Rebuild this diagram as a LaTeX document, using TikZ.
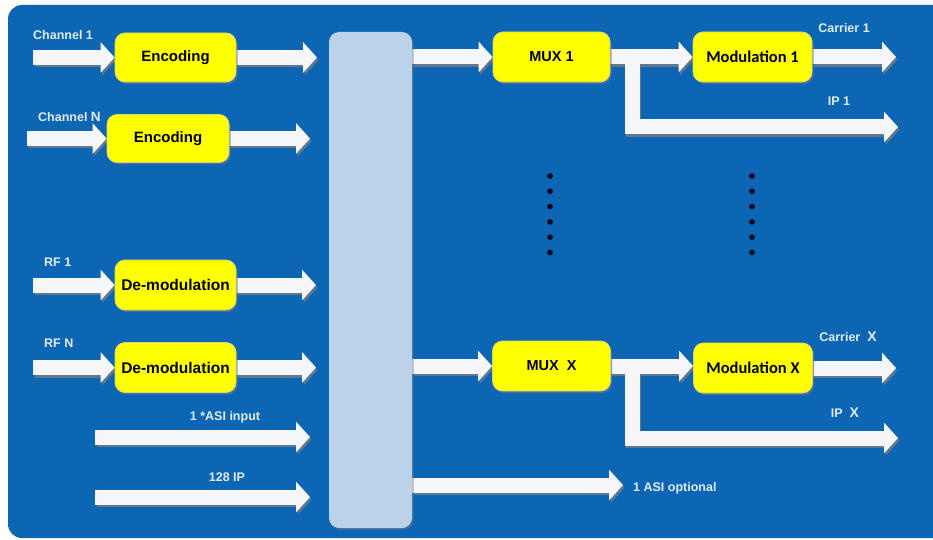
\documentclass[tikz,border=0pt]{standalone}
\usepackage{fontspec}
\setmainfont{Liberation Sans}
\newfontfamily\calfont{Carlito}
\usetikzlibrary{arrows.meta,shadows}
\definecolor{bgblue}{RGB}{12,102,180}
\definecolor{hubc}{RGB}{188,210,232}
\definecolor{arrw}{RGB}{244,246,249}
\definecolor{shadowc}{RGB}{100,118,140}
\definecolor{labc}{RGB}{226,236,248}
\definecolor{boxy}{RGB}{255,255,0}
\definecolor{boxedge}{RGB}{215,215,120}
\definecolor{dotc}{RGB}{0,8,40}
\pgfdeclarelayer{back}
\pgfdeclarelayer{mid}
\pgfsetlayers{back,mid,main}
\tikzset{
  flow/.style={draw=arrw, line width=15pt, line join=miter, -{Triangle[length=14pt,width=30pt]}},
  flowsh/.style={draw=shadowc, line width=15pt, line join=miter, -{Triangle[length=14pt,width=30pt]},
     transform canvas={shift={(1.5pt,-2.5pt)}}},
  ybox/.style={rectangle, rounded corners=10pt, fill=boxy, draw=boxedge, line width=0.8pt, inner sep=0pt,
     text=black, font=\bfseries\fontsize{15}{18}\selectfont,
     drop shadow={shadow xshift=1.5pt, shadow yshift=-2pt, fill=shadowc, opacity=0.7}},
  modbox/.style={ybox, font=\calfont\bfseries\fontsize{16.5}{19}\selectfont},
  hub/.style={rectangle, rounded corners=10pt, fill=hubc, inner sep=0pt,
     drop shadow={shadow xshift=1.5pt, shadow yshift=-2pt, fill=shadowc, opacity=0.5}},
  lab/.style={text=labc, inner sep=0pt, font=\bfseries\fontsize{12.5}{14}\selectfont},
  vdot/.style={fill=dotc}
}
\newcommand{\farrow}[1]{%
  \begin{pgfonlayer}{back}\draw[flowsh] #1;\end{pgfonlayer}%
  \begin{pgfonlayer}{mid}\draw[flow] #1;\end{pgfonlayer}}
\begin{document}
\begin{tikzpicture}[x=1pt,y=-1pt]
\useasboundingbox (0,0) rectangle (933,540);
\begin{pgfonlayer}{back}
  \fill[white] (0,0) rectangle (933,540);
  \fill[bgblue, rounded corners=14pt] (8,5) rectangle (960,538);
\end{pgfonlayer}

% central bar
\node[hub, minimum width=83pt, minimum height=496pt] (hub) at (370.5,280) {};

% left boxes
\node[ybox, minimum width=121pt, minimum height=49pt] (enc1) at (175.5,57.5) {Encoding};
\node[ybox, minimum width=122pt, minimum height=48pt] (enc2) at (168,138.5) {Encoding};
\node[ybox, minimum width=121pt, minimum height=50pt, font=\bfseries\fontsize{15.5}{18}\selectfont] (dem1) at (175.5,285) {De-modulation};
\node[ybox, minimum width=121pt, minimum height=50pt, font=\bfseries\fontsize{15.5}{18}\selectfont] (dem2) at (175.5,367.5) {De-modulation};

% right boxes
\node[ybox, minimum width=117pt, minimum height=50pt, font=\bfseries\fontsize{14.5}{18}\selectfont] (mux1) at (551.5,57) {MUX 1};
\node[modbox, minimum width=119pt, minimum height=50pt] (mod1) at (752.5,57) {Modulation 1};
\node[ybox, minimum width=118pt, minimum height=50pt, font=\bfseries\fontsize{14.5}{18}\selectfont] (muxX) at (551.5,366) {MUX\ \ X};
\node[modbox, minimum width=119pt, minimum height=50pt] (modX) at (753,368) {Modulation X};

% free ends
\coordinate (c1in) at (33,57.5);   \coordinate (c1out) at (317,57.5);
\coordinate (cNin) at (27,138.5);  \coordinate (cNout) at (310,138.5);
\coordinate (r1in) at (33,285);    \coordinate (r1out) at (316,285);
\coordinate (rNin) at (33,367.5);  \coordinate (rNout) at (316,367.5);
\coordinate (asiin) at (95,437);   \coordinate (asiout) at (310,437);
\coordinate (ipin) at (95,497);    \coordinate (ipout) at (310,497);
\coordinate (car1) at (896,57);    \coordinate (carX) at (896,368);
\coordinate (br1) at (632,57);     \coordinate (ip1) at (898,127);
\coordinate (brX) at (632,366);    \coordinate (ipX) at (898,438);
\coordinate (asio) at (623,485);

% left arrows
\farrow{(c1in) -- (enc1.west)}
\farrow{(enc1.east) -- (c1out)}
\farrow{(cNin) -- (enc2.west)}
\farrow{(enc2.east) -- (cNout)}
\farrow{(r1in) -- (dem1.west)}
\farrow{(dem1.east) -- (r1out)}
\farrow{(rNin) -- (dem2.west)}
\farrow{(dem2.east) -- (rNout)}
\farrow{(asiin) -- (asiout)}
\farrow{(ipin) -- (ipout)}

% right arrows
\farrow{(br1) -- (br1 |- ip1) -- (ip1)}
\farrow{(brX) -- (brX |- ipX) -- (ipX)}
\farrow{(hub.east |- mux1.west) -- (mux1.west)}
\farrow{(mux1.east) -- (mod1.west)}
\farrow{(mod1.east) -- (car1)}
\farrow{(hub.east |- muxX.west) -- (muxX.west)}
\farrow{(muxX.east) -- (modX.west |- muxX.east)}
\farrow{(modX.east) -- (carX)}
\farrow{(hub.east |- asio) -- (asio)}

% labels
\node[lab, anchor=west] (lc1) at (33,35) {Channel 1};
\node[lab, anchor=west] (lcN) at (38,117) {Channel {\fontsize{13.5}{14}\selectfont N}};
\node[lab, anchor=west] (lr1) at (44,262) {RF 1};
\node[lab, anchor=west] (lrN) at (44,343) {RF N};
\node[lab] (lasi) at (225,417) {1 *ASI input};
\node[lab] (lip) at (227,477) {128 IP};
\node[lab] (lcar1) at (844,28) {Carrier 1};
\node[lab] (lip1) at (839,101) {IP 1};
\node[lab] (lcarX) at (848,337) {Carrier\ \ {\fontsize{14}{15}\selectfont X}};
\node[lab] (lipX) at (845,413) {IP\ \ {\fontsize{14}{15}\selectfont X}};
\node[lab, anchor=west] (lasio) at (633,488) {1 ASI optional};

% dots
\foreach \yy in {176,191.3,206.6,221.9,237.2,252.5} {
  \fill[vdot] (550,\yy) circle (2.9pt);
  \fill[vdot] (752,\yy) circle (2.9pt);
}
\end{tikzpicture}
\end{document}
